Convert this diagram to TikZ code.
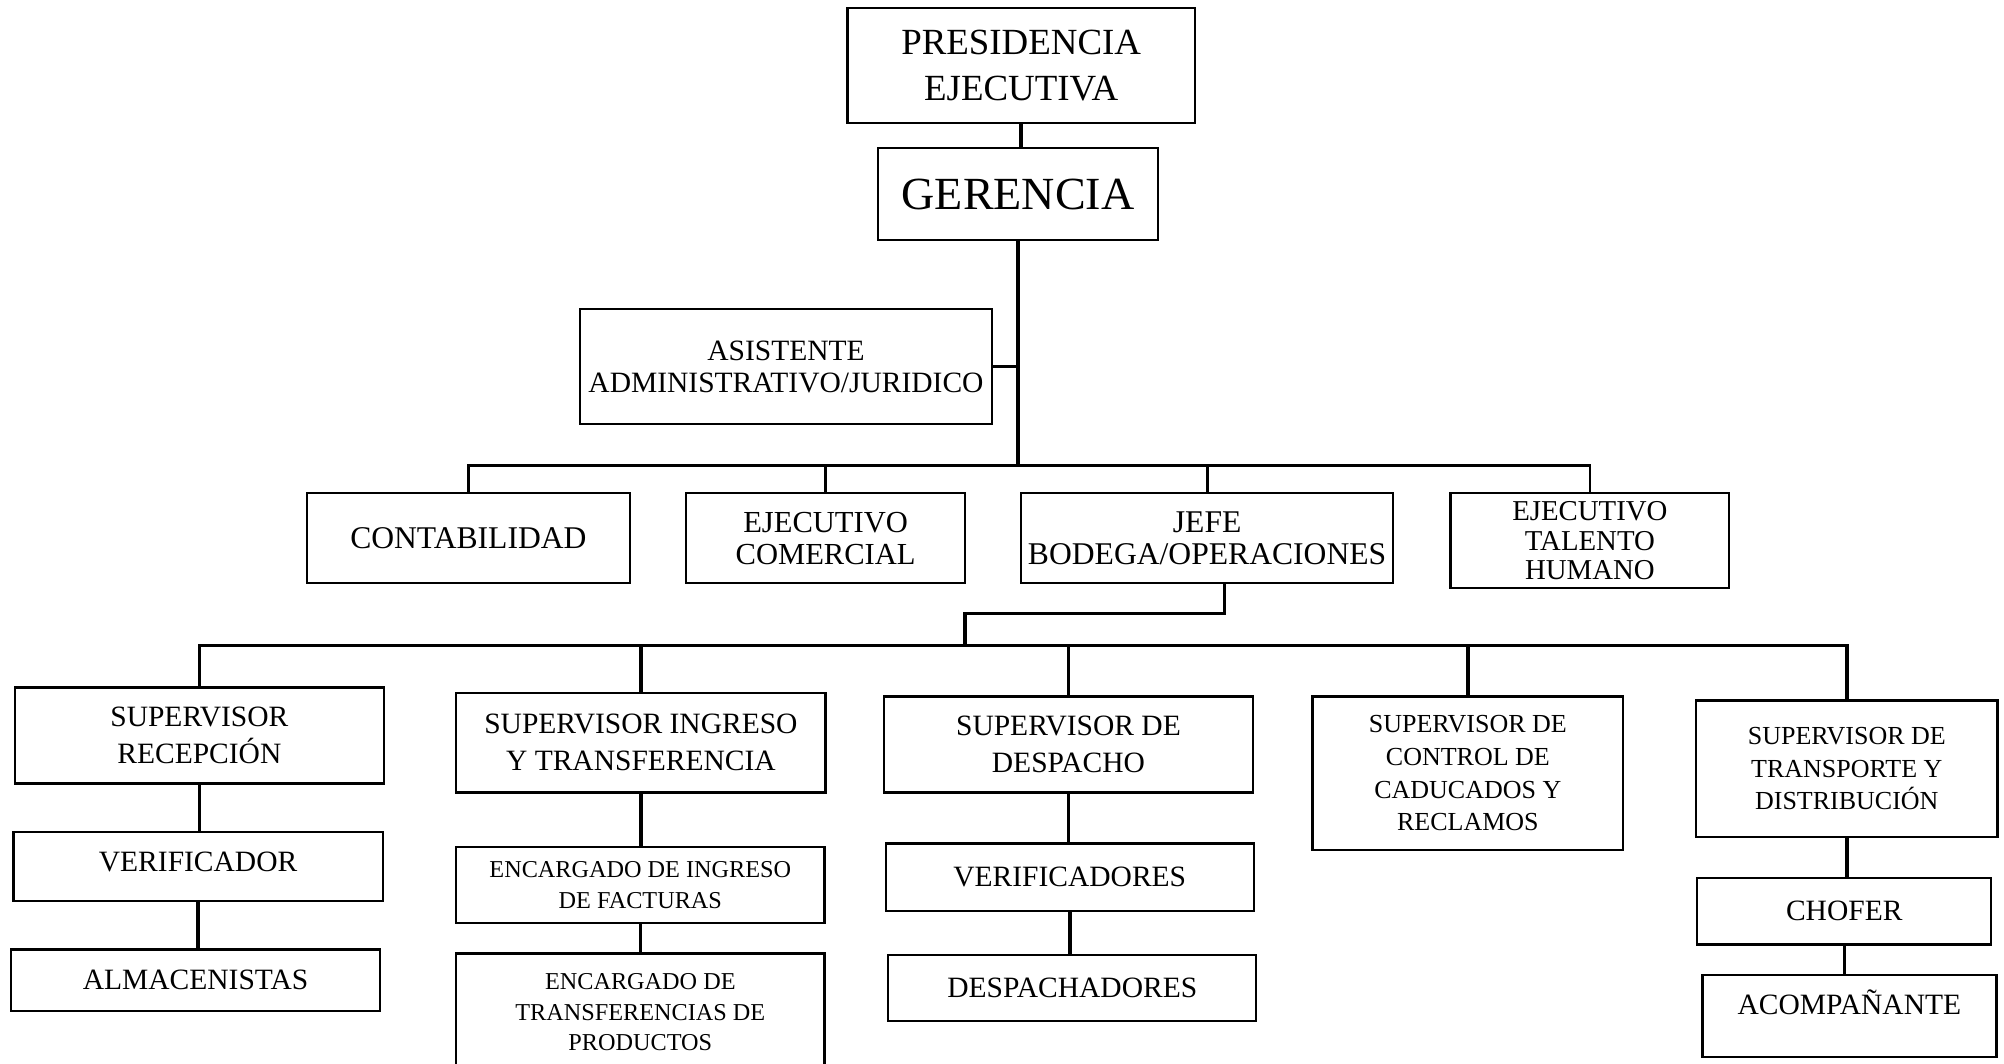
\documentclass[tikz,border=0pt]{standalone}
\usepackage{fontspec}
\setmainfont{Liberation Serif}
\tikzset{
  box/.style={draw,line width=0.65pt,inner sep=0pt,align=center,font=\fontsize{8.4}{10.5}\selectfont},
  wh/.style 2 args={minimum width=#1*0.01278cm,minimum height=#2*0.01278cm},
  tightbox/.style={font=\fontsize{8.4}{9.1}\selectfont},
  smallbox/.style={font=\fontsize{7.4}{9.3}\selectfont},
  tinybox/.style={font=\fontsize{6.9}{8.6}\selectfont},
  link/.style={line width=1pt},
  twig/.style={line width=0.8pt}}

\begin{document}
\begin{tikzpicture}[x=0.01278cm,y=-0.01278cm]
\useasboundingbox (0,0) rectangle (1568,832);
% direccion
\node[box,wh={272}{90},font=\fontsize{10.5}{13.1}\selectfont] (Pres) at (799,51) {PRESIDENCIA\\EJECUTIVA};
\node[box,wh={219}{72},font=\fontsize{13.1}{15}\selectfont] (Ger) at (796.5,152) {GERENCIA};
\node[box,wh={322}{90},tightbox] (Asis) at (615,287) {ASISTENTE\\ADMINISTRATIVO/JURIDICO};
% primer nivel
\node[box,wh={253}{70},font=\fontsize{9}{10.5}\selectfont] (Cont) at (366.5,421) {CONTABILIDAD};
\node[box,wh={218}{70},font=\fontsize{8.7}{9.1}\selectfont] (EjCom) at (646,421) {EJECUTIVO\\COMERCIAL};
\node[box,wh={291}{70},font=\fontsize{9}{9.1}\selectfont] (Jefe) at (944.5,421) {JEFE\\BODEGA/OPERACIONES};
\node[box,wh={218}{74},font=\fontsize{8.2}{8.4}\selectfont] (EjTal) at (1244,423) {EJECUTIVO\\TALENTO\\HUMANO};
% bodega
\node[box,wh={289}{75}] (SRec) at (156,575.5) {SUPERVISOR\\RECEPCIÓN};
\node[box,wh={289}{54},text depth=3pt] (Verif) at (155,678) {VERIFICADOR};
\node[box,wh={289}{48}] (Alm) at (153,767) {ALMACENISTAS};
\node[box,wh={289}{78}] (SIng) at (501.5,581) {SUPERVISOR INGRESO\\Y TRANSFERENCIA};
\node[box,wh={288}{59},tinybox] (EFact) at (501,692.5) {ENCARGADO DE INGRESO\\DE FACTURAS};
\node[box,wh={288}{92},tinybox] (ETrans) at (501,792) {ENCARGADO DE\\TRANSFERENCIAS DE\\PRODUCTOS};
\node[box,wh={289}{75}] (SDesp) at (836,582.5) {SUPERVISOR DE\\DESPACHO};
\node[box,wh={288}{53}] (Verifs) at (837,686.5) {VERIFICADORES};
\node[box,wh={288}{52}] (Desp) at (839,773) {DESPACHADORES};
\node[box,wh={243}{120},smallbox] (SCad) at (1148.5,605) {SUPERVISOR DE\\CONTROL DE\\CADUCADOS Y\\RECLAMOS};
\node[box,wh={236}{107},smallbox] (STrans) at (1445,601.5) {SUPERVISOR DE\\TRANSPORTE Y\\DISTRIBUCIÓN};
\node[box,wh={230}{52}] (Chof) at (1443,713) {CHOFER};
\node[box,wh={230}{64},text depth=8pt] (Acomp) at (1447,795) {ACOMPAÑANTE};

\coordinate (Bar1) at (797,364);
\coordinate (Knee) at (958,480);
\coordinate (Bar2) at (755,505);
\draw[link] (Pres.south) -- (Pres.south |- Ger.north);
\draw[link,line width=1.3pt] (Ger.south) -- (Ger.south |- Bar1);
\draw[twig] (Asis.east) -- (Asis.east -| Ger.south);
\draw[twig] (Cont.north) |- (Bar1) -| (EjTal.north);
\draw[twig] (EjCom.north) -- (EjCom.north |- Bar1);
\draw[twig] (Jefe.north) -- (Jefe.north |- Bar1);
\draw[link] (Jefe.south -| Knee) -- (Knee) -| (Bar2);
\draw[link] (SRec.north) |- (Bar2) -| (STrans.north);
\foreach \n in {SIng,SDesp,SCad}
  \draw[link] (\n.north) -- (\n.north |- Bar2);
\foreach \a/\b in {SRec/Verif,Verif/Alm,SIng/EFact,EFact/ETrans,SDesp/Verifs,Verifs/Desp,STrans/Chof,Chof/Acomp}
  \draw[link] (\a.south) -- (\a.south |- \b.north);
\end{tikzpicture}
\end{document}
